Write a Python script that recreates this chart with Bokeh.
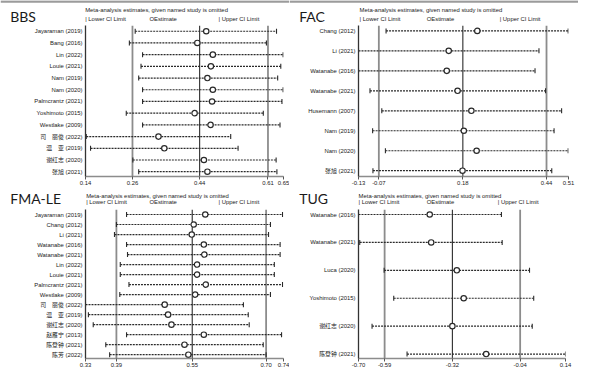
import numpy as np
from bokeh.plotting import figure
from bokeh.layouts import row, column
from bokeh.models import Range1d, FixedTicker, Span, ColumnDataSource
from bokeh.core.properties import value
from bokeh.embed import file_html
from bokeh.resources import INLINE

# ---------------- data ----------------
bbs_names = ["Jayaraman (2019)", "Bang (2016)", "Lin (2022)", "Louie (2021)", "Nam (2019)",
             "Nam (2020)", "Palmcrantz (2021)", "Yoshimoto (2015)", "Westlake (2009)",
             "司　丽俊 (2022)", "温　亚 (2019)", "谢红志 (2020)", "张旭 (2021)"]
bbs_est = [0.451, 0.428, 0.468, 0.463, 0.454, 0.468, 0.466, 0.421, 0.462, 0.328, 0.343, 0.445, 0.454]
bbs_lo = [0.268, 0.253, 0.287, 0.283, 0.277, 0.287, 0.287, 0.245, 0.287, 0.142, 0.153, 0.262, 0.277]
bbs_hi = [0.632, 0.606, 0.649, 0.643, 0.635, 0.649, 0.646, 0.598, 0.641, 0.514, 0.533, 0.631, 0.633]
bbs_lines = [0.261, 0.434, 0.610]
bbs_ticks = [0.14, 0.261, 0.434, 0.610, 0.65]
bbs_tick_labels = ["0.14", "0.26", "0.44", "0.61", "0.65"]
bbs_xlim = (0.14, 0.65)

fac_names = ["Chang (2012)", "Li (2021)", "Watanabe (2016)", "Watanabe (2021)",
             "Husemann (2007)", "Nam (2019)", "Nam (2020)", "张旭 (2021)"]
fac_est = [0.232, 0.145, 0.139, 0.172, 0.214, 0.191, 0.230, 0.187]
fac_lo = [-0.046, -0.130, -0.130, -0.095, -0.059, -0.087, -0.048, -0.086]
fac_hi = [0.509, 0.420, 0.408, 0.440, 0.489, 0.466, 0.509, 0.459]
fac_lines = [-0.068, 0.188, 0.443]
fac_ticks = [-0.13, -0.068, 0.188, 0.443, 0.51]
fac_tick_labels = ["-0.13", "-0.07", "0.18", "0.44", "0.51"]
fac_xlim = (-0.13, 0.51)

fma_names = ["Jayaraman (2019)", "Chang (2012)", "Li (2021)", "Watanabe (2016)", "Watanabe (2021)",
             "Lin (2022)", "Louie (2021)", "Palmcrantz (2021)", "Westlake (2009)",
             "司　丽俊 (2022)", "温　亚 (2019)", "谢红志 (2020)", "赵雁宁 (2013)",
             "陈登钟 (2021)", "陈芳 (2022)"]
fma_est = [0.578, 0.554, 0.550, 0.575, 0.576, 0.561, 0.561, 0.579, 0.557, 0.494, 0.501, 0.508, 0.575, 0.535, 0.543]
fma_lo = [0.415, 0.394, 0.390, 0.415, 0.417, 0.402, 0.402, 0.420, 0.401, 0.330, 0.336, 0.346, 0.415, 0.372, 0.380]
fma_hi = [0.738, 0.713, 0.709, 0.733, 0.733, 0.721, 0.721, 0.738, 0.713, 0.657, 0.667, 0.669, 0.736, 0.698, 0.704]
fma_lines = [0.394, 0.551, 0.704]
fma_ticks = [0.33, 0.394, 0.551, 0.704, 0.74]
fma_tick_labels = ["0.33", "0.39", "0.55", "0.70", "0.74"]
fma_xlim = (0.33, 0.74)

tug_names = ["Watanabe (2016)", "Watanabe (2021)", "Luca (2020)", "Yoshimoto (2015)",
             "谢红志 (2020)", "陈登钟 (2021)"]
tug_est = [-0.411, -0.405, -0.301, -0.273, -0.319, -0.182]
tug_lo = [-0.700, -0.695, -0.596, -0.557, -0.645, -0.503]
tug_hi = [-0.120, -0.117, -0.006, 0.011, 0.005, 0.140]
tug_lines = [-0.594, -0.319, -0.044]
tug_ticks = [-0.70, -0.594, -0.319, -0.044, 0.14]
tug_tick_labels = ["-0.70", "-0.59", "-0.32", "-0.04", "0.14"]
tug_xlim = (-0.70, 0.14)

SUBTITLE = "Meta-analysis estimates, given named study is omitted"
LEGEND = ["| Lower CI Limit", "OEstimate", "| Upper CI Limit"]

# ---------------- layout ----------------
SX = 578 / 594
SY = 370 / 387
W_COL = 289
H_TOP, H_BOT = 188, 182
FONT = "Liberation Sans, Noto Sans CJK SC"
TFONT = "Lato"
SMALL = "5.9px"
INK = "#2a2a2a"


def make_panel(title, names, est, lo, hi, lines, ticks, tick_labels, xlim, geo, top_rule=False):
    ox, oy = geo["origin"]
    h_all = geo["height"]
    fl, fr, ft, fb = geo["frame"]
    tx = lambda v: (v - ox) * SX
    ty = lambda v: (v - oy) * SY
    hh = round(ty(ft))          # header height = frame top
    hp = h_all - hh             # plot figure height
    bl = round(tx(fl))
    br = W_COL - round(tx(fr))
    bb = hp - round(ty(fb) - hh)
    up = lambda v: hh - ty(v)   # header y measured upward from its bottom

    # ---- header (title, subtitle, legend) ----
    hdr = figure(width=W_COL, height=hh, output_backend="svg", toolbar_location=None,
                 x_range=Range1d(0, W_COL), y_range=Range1d(0, hh),
                 x_axis_type=None, y_axis_type=None, title=None,
                 min_border_left=0, min_border_right=0, min_border_top=0, min_border_bottom=0)
    hdr.outline_line_color = None
    hdr.grid.visible = False
    if top_rule:
        hdr.add_layout(Span(location=hh - 1.0, dimension="width", line_color="#9b9b9b", line_width=2.5))
    hdr.text(x=[tx(geo["title"][0])], y=[up(geo["title"][1])], text=[title],
             text_font=value(TFONT), text_font_size=value("14px"), text_baseline="middle",
             text_align="left", text_color="#1a1a1a")
    hx = [tx(geo["sub_x"])] + [tx(v) for v in geo["leg_x"]]
    hy = [up(geo["sub_y"])] + [up(geo["leg_y"])] * 3
    hdr.text(x=hx, y=hy, text=[SUBTITLE] + LEGEND,
             text_font=value(FONT), text_font_size=value(SMALL), text_baseline="middle",
             text_align="left", text_color="#1a1a1a")

    # ---- plot ----
    n = len(names)
    p = figure(width=W_COL, height=hp, output_backend="svg", toolbar_location=None,
               x_range=Range1d(*xlim), title=None,
               y_range=Range1d(n - 1 + geo["pad_b"], -geo["pad_t"]),
               min_border_left=bl, min_border_right=br, min_border_top=0, min_border_bottom=bb)
    p.outline_line_color = None
    p.grid.visible = False

    for i, v in enumerate(lines):
        mid = (i == 1)
        p.add_layout(Span(location=v, dimension="height",
                          line_color="#2b2b2b" if mid else "#8c8c8c",
                          line_width=1.1 if mid else 1.8, level="underlay"))

    ys = list(range(n))
    src = ColumnDataSource(dict(y=ys, est=est, lo=lo, hi=hi))
    p.segment(x0="lo", y0="y", x1="hi", y1="y", source=src, line_color=INK,
              line_width=1.2, line_dash="2 1")
    p.scatter(x="lo", y="y", source=src, marker="dash", angle=np.pi / 2, size=5,
              line_color=INK, line_width=1.1)
    p.scatter(x="hi", y="y", source=src, marker="dash", angle=np.pi / 2, size=5,
              line_color=INK, line_width=1.1)
    p.scatter(x="est", y="y", source=src, marker="circle", size=5.4, fill_color="white",
              line_color=INK, line_width=1.2)

    xa = p.xaxis[0]
    xa.ticker = FixedTicker(ticks=ticks, minor_ticks=[])
    xa.major_label_overrides = {t: l for t, l in zip(ticks, tick_labels)}
    xa.axis_line_color = "#8c8c8c"
    xa.axis_line_width = 1.6
    xa.major_tick_line_color = "#555555"
    xa.major_tick_out = 3
    xa.major_tick_in = 0
    xa.major_label_standoff = 1
    xa.major_label_text_font = FONT
    xa.major_label_text_font_size = SMALL
    xa.major_label_text_color = "#222222"

    ya = p.yaxis[0]
    ya.ticker = FixedTicker(ticks=ys, minor_ticks=[])
    ya.major_label_overrides = {i: nm for i, nm in enumerate(names)}
    ya.axis_line_color = "#333333"
    ya.axis_line_width = 1.3
    ya.major_tick_out = 0
    ya.major_tick_in = 0
    ya.major_label_standoff = 3
    ya.major_label_text_font = FONT
    ya.major_label_text_font_size = SMALL
    ya.major_label_text_color = "#222222"
    return hdr, p


oy_b = H_TOP / SY
xr0 = W_COL / SX
# title position = (left x, vertical centre of the capitals) in reference pixels
geo_bbs = dict(origin=(0, 0), height=H_TOP, frame=(87, 291, 26, 184), pad_t=0.49, pad_b=0.41,
               title=(10, 16.3), sub_x=87, sub_y=9.5, leg_x=[87, 153, 224], leg_y=19.3)
geo_fac = dict(origin=(xr0, 0), height=H_TOP, frame=(368, 584, 26, 184), pad_t=0.27, pad_b=0.29,
               title=(307, 16.3), sub_x=369, sub_y=9.5, leg_x=[369, 438, 513], leg_y=19.3)
geo_fma = dict(origin=(0, oy_b), height=H_BOT, frame=(87.5, 291, 218.5, 374.3), pad_t=0.5, pad_b=0.38,
               title=(10, 207.2), sub_x=88, sub_y=204.3, leg_x=[88, 153, 224], leg_y=210.9)
geo_tug = dict(origin=(xr0, oy_b), height=H_BOT, frame=(367.7, 581, 218.5, 375), pad_t=0.18, pad_b=0.16,
               title=(307, 207.2), sub_x=368, sub_y=204.3, leg_x=[368, 438, 511], leg_y=210.9)

h1, p1 = make_panel("BBS", bbs_names, bbs_est, bbs_lo, bbs_hi, bbs_lines, bbs_ticks, bbs_tick_labels, bbs_xlim, geo_bbs, True)
h2, p2 = make_panel("FAC", fac_names, fac_est, fac_lo, fac_hi, fac_lines, fac_ticks, fac_tick_labels, fac_xlim, geo_fac, True)
h3, p3 = make_panel("FMA-LE", fma_names, fma_est, fma_lo, fma_hi, fma_lines, fma_ticks, fma_tick_labels, fma_xlim, geo_fma)
h4, p4 = make_panel("TUG", tug_names, tug_est, tug_lo, tug_hi, tug_lines, tug_ticks, tug_tick_labels, tug_xlim, geo_tug)

layout = column(row(h1, h2), row(p1, p2), row(h3, h4), row(p3, p4))

open("out.html", "w").write(file_html(layout, INLINE))
